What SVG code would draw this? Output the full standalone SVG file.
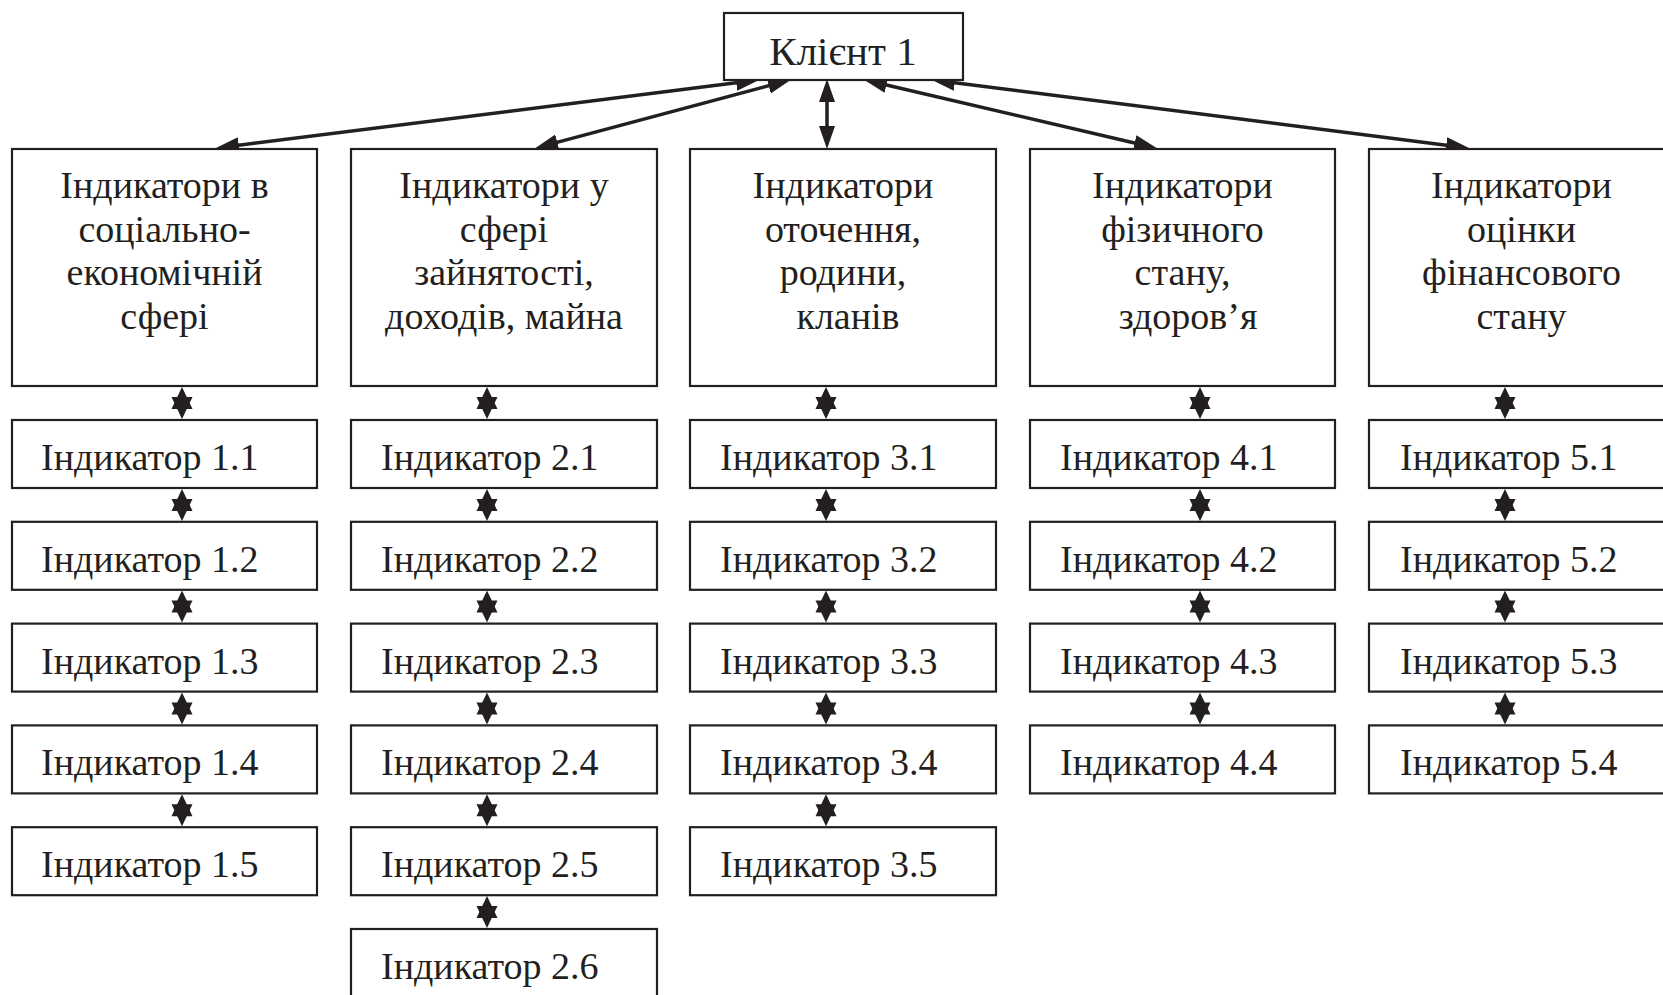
<svg xmlns="http://www.w3.org/2000/svg" xmlns:xlink="http://www.w3.org/1999/xlink" width="1663" height="995" viewBox="0 0 1663 995">
<style>
.box{fill:#fff;stroke:#231f20;stroke-width:2.2}
.t{font-family:"Liberation Serif","Times New Roman",serif;font-size:38px;fill:#231f20}
.c{text-anchor:middle}
.con{stroke:#231f20;stroke-width:3.5;fill:none;marker-start:url(#ah);marker-end:url(#ah)}
.dbl{fill:#231f20}
</style>
<defs>
<marker id="ah" markerUnits="userSpaceOnUse" viewBox="0 0 24 18" markerWidth="24" markerHeight="18" refX="12" refY="9" orient="auto-start-reverse">
<path d="M0,1 L23,9 L0,17 Z" fill="#231f20"/>
</marker>
<g id="dbl">
<path d="M0,1 L10.5,23 L-10.5,23 Z"/>
<path d="M0,33 L-10.5,11 L10.5,11 Z"/>
</g>
</defs>
<rect width="1663" height="995" fill="#fff"/>

<g id="connectors">
<path class="con" d="M748.1,81.25 L226.9,146.75"/>
<path class="con" d="M780.3,82.6 L545.7,145.4"/>
<path class="con" d="M827,90 L827,138"/>
<path class="con" d="M874.7,82.3 L1146.3,145.7"/>
<path class="con" d="M942.9,81.3 L1458.1,146.7"/>
<g class="dbl">
<use href="#dbl" x="182" y="386"/><use href="#dbl" x="182" y="488"/><use href="#dbl" x="182" y="589.6"/><use href="#dbl" x="182" y="691.4"/><use href="#dbl" x="182" y="793.2"/>
<use href="#dbl" x="487" y="386"/><use href="#dbl" x="487" y="488"/><use href="#dbl" x="487" y="589.6"/><use href="#dbl" x="487" y="691.4"/><use href="#dbl" x="487" y="793.2"/><use href="#dbl" x="487" y="895"/>
<use href="#dbl" x="826" y="386"/><use href="#dbl" x="826" y="488"/><use href="#dbl" x="826" y="589.6"/><use href="#dbl" x="826" y="691.4"/><use href="#dbl" x="826" y="793.2"/>
<use href="#dbl" x="1200" y="386"/><use href="#dbl" x="1200" y="488"/><use href="#dbl" x="1200" y="589.6"/><use href="#dbl" x="1200" y="691.4"/>
<use href="#dbl" x="1505" y="386"/><use href="#dbl" x="1505" y="488"/><use href="#dbl" x="1505" y="589.6"/><use href="#dbl" x="1505" y="691.4"/>
</g>
</g>

<g id="client">
<rect class="box" x="724" y="13" width="239" height="67"/>
<text class="t c" x="843" y="65" style="font-size:41px">Клієнт 1</text>
</g>

<g id="h1">
<rect class="box" x="12" y="149" width="305" height="237"/>
<text class="t c" x="164.5" y="198">Індикатори в</text>
<text class="t c" x="164.5" y="241.5">соціально-</text>
<text class="t c" x="164.5" y="285">економічній</text>
<text class="t c" x="164.5" y="328.5">сфері</text>
</g>
<g id="h2">
<rect class="box" x="351" y="149" width="306" height="237"/>
<text class="t c" x="504" y="198">Індикатори у</text>
<text class="t c" x="504" y="241.5">сфері</text>
<text class="t c" x="504" y="285">зайнятості,</text>
<text class="t c" x="504" y="328.5">доходів, майна</text>
</g>
<g id="h3">
<rect class="box" x="690" y="149" width="306" height="237"/>
<text class="t c" x="843" y="198">Індикатори</text>
<text class="t c" x="843" y="241.5">оточення,</text>
<text class="t c" x="843" y="285">родини,</text>
<text class="t c" x="848" y="328.5">кланів</text>
</g>
<g id="h4">
<rect class="box" x="1030" y="149" width="305" height="237"/>
<text class="t c" x="1182.5" y="198">Індикатори</text>
<text class="t c" x="1182.5" y="241.5">фізичного</text>
<text class="t c" x="1182.5" y="285">стану,</text>
<text class="t c" x="1188" y="328.5">здоров’я</text>
</g>
<g id="h5">
<rect class="box" x="1369" y="149" width="305" height="237"/>
<text class="t c" x="1521.5" y="198">Індикатори</text>
<text class="t c" x="1521.5" y="241.5">оцінки</text>
<text class="t c" x="1521.5" y="285">фінансового</text>
<text class="t c" x="1521.5" y="328.5">стану</text>
</g>

<g id="i1_1"><rect class="box" x="12" y="420" width="305" height="68"/><text class="t" x="41" y="470">Індикатор 1.1</text></g>
<g id="i1_2"><rect class="box" x="12" y="521.8" width="305" height="68"/><text class="t" x="41" y="571.8">Індикатор 1.2</text></g>
<g id="i1_3"><rect class="box" x="12" y="623.6" width="305" height="68"/><text class="t" x="41" y="673.6">Індикатор 1.3</text></g>
<g id="i1_4"><rect class="box" x="12" y="725.4" width="305" height="68"/><text class="t" x="41" y="775.4">Індикатор 1.4</text></g>
<g id="i1_5"><rect class="box" x="12" y="827.2" width="305" height="68"/><text class="t" x="41" y="877.2">Індикатор 1.5</text></g>

<g id="i2_1"><rect class="box" x="351" y="420" width="306" height="68"/><text class="t" x="381" y="470">Індикатор 2.1</text></g>
<g id="i2_2"><rect class="box" x="351" y="521.8" width="306" height="68"/><text class="t" x="381" y="571.8">Індикатор 2.2</text></g>
<g id="i2_3"><rect class="box" x="351" y="623.6" width="306" height="68"/><text class="t" x="381" y="673.6">Індикатор 2.3</text></g>
<g id="i2_4"><rect class="box" x="351" y="725.4" width="306" height="68"/><text class="t" x="381" y="775.4">Індикатор 2.4</text></g>
<g id="i2_5"><rect class="box" x="351" y="827.2" width="306" height="68"/><text class="t" x="381" y="877.2">Індикатор 2.5</text></g>
<g id="i2_6"><rect class="box" x="351" y="929" width="306" height="68"/><text class="t" x="381" y="979">Індикатор 2.6</text></g>

<g id="i3_1"><rect class="box" x="690" y="420" width="306" height="68"/><text class="t" x="720" y="470">Індикатор 3.1</text></g>
<g id="i3_2"><rect class="box" x="690" y="521.8" width="306" height="68"/><text class="t" x="720" y="571.8">Індикатор 3.2</text></g>
<g id="i3_3"><rect class="box" x="690" y="623.6" width="306" height="68"/><text class="t" x="720" y="673.6">Індикатор 3.3</text></g>
<g id="i3_4"><rect class="box" x="690" y="725.4" width="306" height="68"/><text class="t" x="720" y="775.4">Індикатор 3.4</text></g>
<g id="i3_5"><rect class="box" x="690" y="827.2" width="306" height="68"/><text class="t" x="720" y="877.2">Індикатор 3.5</text></g>

<g id="i4_1"><rect class="box" x="1030" y="420" width="305" height="68"/><text class="t" x="1060" y="470">Індикатор 4.1</text></g>
<g id="i4_2"><rect class="box" x="1030" y="521.8" width="305" height="68"/><text class="t" x="1060" y="571.8">Індикатор 4.2</text></g>
<g id="i4_3"><rect class="box" x="1030" y="623.6" width="305" height="68"/><text class="t" x="1060" y="673.6">Індикатор 4.3</text></g>
<g id="i4_4"><rect class="box" x="1030" y="725.4" width="305" height="68"/><text class="t" x="1060" y="775.4">Індикатор 4.4</text></g>

<g id="i5_1"><rect class="box" x="1369" y="420" width="305" height="68"/><text class="t" x="1400" y="470">Індикатор 5.1</text></g>
<g id="i5_2"><rect class="box" x="1369" y="521.8" width="305" height="68"/><text class="t" x="1400" y="571.8">Індикатор 5.2</text></g>
<g id="i5_3"><rect class="box" x="1369" y="623.6" width="305" height="68"/><text class="t" x="1400" y="673.6">Індикатор 5.3</text></g>
<g id="i5_4"><rect class="box" x="1369" y="725.4" width="305" height="68"/><text class="t" x="1400" y="775.4">Індикатор 5.4</text></g>
</svg>
